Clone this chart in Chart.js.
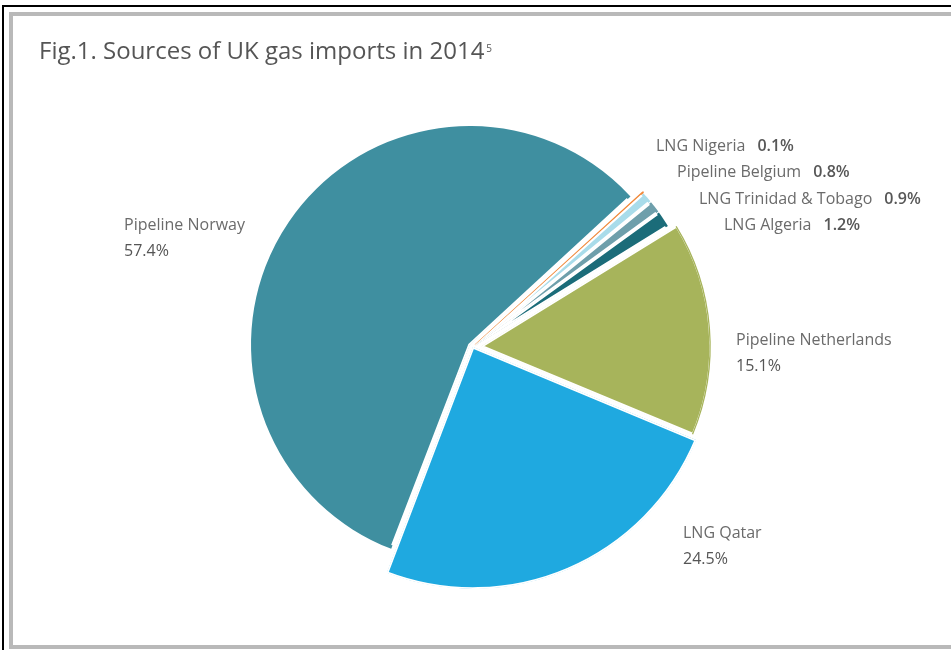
<!DOCTYPE html>
<html lang="en">
<head>
<meta charset="UTF-8">
<title>Sources of UK gas imports in 2014</title>
<script src="https://cdn.jsdelivr.net/npm/chart.js@4"></script>
<style>
  * { box-sizing: border-box; margin: 0; padding: 0; }
  body { width: 951px; height: 650px; background: #fff; overflow: hidden; position: relative; font-family: 'Open Sans', sans-serif; }
  .frame-outer { position: absolute; left: 2px; top: 5px; width: 1000px; height: 700px; border: 2px solid #000; }
  .frame-inner { position: absolute; left: 9px; top: 12px; width: 1000px; height: 637px; border: 4px solid #b9b9b9; }
  h1 { position: absolute; left: 39px; top: 38px; font-size: 24px; line-height: 24px; font-weight: 400; color: #555; white-space: nowrap; z-index: 2; }
  h1 sup { font-size: 10px; line-height: 10px; vertical-align: baseline; position: relative; top: -7px; margin-left: 2px; }
  #chart { position: absolute; left: 0; top: 0; z-index: 1; }
</style>
</head>
<body>
<div class="frame-outer"></div>
<div class="frame-inner"></div>
<h1>Fig.1. Sources of UK gas imports in 2014<sup>5</sup></h1>
<canvas id="chart" width="951" height="650"></canvas>
<script>
// Data (percent of UK gas imports, 2014), clockwise from the top right
const sources = ['LNG Nigeria', 'Pipeline Belgium', 'LNG Trinidad & Tobago', 'LNG Algeria', 'Pipeline Netherlands', 'LNG Qatar', 'Pipeline Norway'];
const shares = [0.1, 0.8, 0.9, 1.2, 15.1, 24.5, 57.4];

// Styling
const colors = ['#f0893b', '#a9dcea', '#6e9fab', '#1b6c79', '#a7b45b', '#1fa9e0', '#3f8fa0'];
const radii = [224, 224, 224, 224, 228, 242, 215];   // outer radius per slice, px
const offsets = [12, 12, 12, 12, 34, 0, 16];          // explode distance
// the 0.1% slice gets an outline in its own colour so it stays visible
const borderColors = ['#f0893b', '#fff', '#fff', '#fff', '#fff', '#fff', '#fff'];
const borderAligns = ['center', 'inner', 'inner', 'inner', 'inner', 'inner', 'inner'];
const borders = [1.6, 1.5, 1.5, 1.5, 1.5, 1.5, 1.5];

// Label layout: left x, baseline y, value on same line or below
const labelAt = [
  [656, 151, true],
  [677, 177, true],
  [699, 204, true],
  [724, 230, true],
  [736, 345, false],
  [683, 538, false],
  [124, 230, false],
];

// Let each slice keep its own radius (the source figure draws Qatar larger)
const sliceRadius = {
  id: 'sliceRadius',
  afterDatasetsUpdate(chart) {
    chart.getDatasetMeta(0).data.forEach((arc, i) => { arc.outerRadius = radii[i]; });
  }
};

const sliceLabels = {
  id: 'sliceLabels',
  afterDatasetsDraw(chart) {
    const { ctx } = chart;
    ctx.save();
    ctx.textAlign = 'left';
    ctx.textBaseline = 'alphabetic';
    sources.forEach((name, i) => {
      const [x, y, inline] = labelAt[i];
      const value = shares[i].toFixed(1) + '%';
      ctx.font = '400 16px "Open Sans"';
      ctx.fillStyle = '#6b6b6b';
      ctx.fillText(name, x, y);
      if (inline) {
        const w = ctx.measureText(name).width;
        ctx.font = '600 16px "Open Sans"';
        ctx.fillStyle = '#575757';
        ctx.fillText(value, x + w + 12, y);
      } else {
        ctx.fillStyle = '#555';
        ctx.fillText(value, x, y + 25.5);
      }
    });
    ctx.restore();
  }
};

new Chart(document.getElementById('chart'), {
  type: 'pie',
  data: {
    labels: sources,
    datasets: [{
      data: shares,
      backgroundColor: colors,
      borderColor: borderColors,
      borderWidth: borders,
      borderAlign: borderAligns,
      offset: offsets,
      clip: false,
    }],
  },
  options: {
    responsive: false,
    animation: false,
    events: [],
    rotation: 47.5,
    radius: 215,
    layout: { padding: { left: 0, right: 5, top: 44, bottom: 0 } },
    plugins: {
      legend: { display: false },
      tooltip: { enabled: false },
    },
  },
  plugins: [sliceRadius, sliceLabels],
});
</script>
</body>
</html>
